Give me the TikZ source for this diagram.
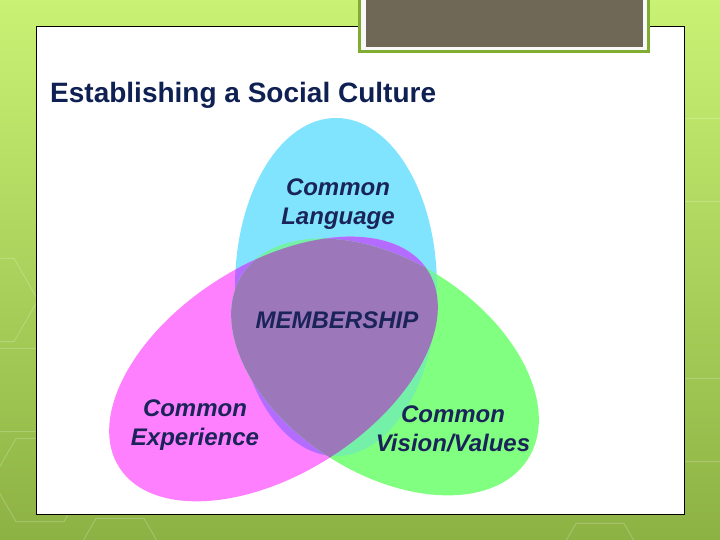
\documentclass[tikz,border=0pt]{standalone}
\usepackage{fontspec}
\setmainfont{Liberation Sans}
\usepackage[HTML]{xcolor}
\usepackage{tikz}
\usetikzlibrary{positioning}

\definecolor{bgtop}{HTML}{C9F274}
\definecolor{bgbot}{HTML}{8DB244}
\definecolor{lime}{HTML}{80AC32}
\definecolor{taupe}{HTML}{706857}
\definecolor{navy}{HTML}{0F2052}
\definecolor{inktext}{HTML}{1A2458}
\definecolor{cyanfill}{HTML}{80E4FF}
\definecolor{pinkfill}{HTML}{FF80FF}
\definecolor{greenfill}{HTML}{80FF80}
\definecolor{violetfill}{HTML}{B36CFF}
\definecolor{tealfill}{HTML}{74F0A8}
\definecolor{corefill}{HTML}{9C78BA}

\begin{document}
\begin{tikzpicture}[x=1pt, y=1pt,
  lbl/.style={font=\fontsize{24}{29}\selectfont\bfseries\itshape, text=inktext, align=center, inner sep=0pt},
  hexline/.style={draw=white, draw opacity=0.2, line width=1pt},
  cyanshape/.style={shift={(LG)}},
  pinkshape/.style={shift={(EX)}, rotate=32.5},
  greenshape/.style={shift={(VV)}, rotate=-33}]
\useasboundingbox (0,0) rectangle (720,540);

% background and slide
\shade[top color=bgtop, bottom color=bgbot] (0,0) rectangle (720,540);
\foreach \cx/\cy in {18/150, 40/60, -10/240, 705/380, 700/120, 120/-20, 600/-25}{
  \draw[hexline] (\cx,\cy) +(0:48) -- +(60:48) -- +(120:48) -- +(180:48) -- +(240:48) -- +(300:48) -- cycle;
}
\draw[fill=white, line width=0.8pt] (36,26) rectangle (684,514);
\draw[fill=white!95!gray, draw=lime, line width=3pt] (359.5,488.5) rectangle (648.5,545);
\fill[taupe] (366,493) rectangle (643,545);

\node[anchor=base west, font=\fontsize{28}{32}\selectfont\bfseries, text=navy, inner sep=0pt]
  (title) at (50,437) {Establishing a Social Culture};

% Venn centres
\coordinate (LG) at (336,253);
\coordinate (EX) at (273.5,171);
\coordinate (VV) at (385,173);

\fill[cyanfill, cyanshape] (0,0) ellipse [x radius=101pt, y radius=169pt];
\fill[pinkfill, pinkshape] (0,0) ellipse [x radius=183pt, y radius=105pt];
\fill[greenfill, greenshape] (0,0) ellipse [x radius=170pt, y radius=106pt];

% overlaps
\begin{scope}
  \clip[pinkshape] (0,0) ellipse [x radius=183pt, y radius=105pt];
  \fill[violetfill, cyanshape] (0,0) ellipse [x radius=101pt, y radius=169pt];
\end{scope}
\begin{scope}
  \clip[greenshape] (0,0) ellipse [x radius=170pt, y radius=106pt];
  \fill[tealfill, cyanshape] (0,0) ellipse [x radius=101pt, y radius=169pt];
\end{scope}
\begin{scope}
  \clip[pinkshape] (0,0) ellipse [x radius=183pt, y radius=105pt];
  \fill[corefill, greenshape] (0,0) ellipse [x radius=170pt, y radius=106pt];
\end{scope}

\node[lbl] (lang) at (338,336) {Common\\Language};
\node[lbl] (memb) at (337,220) {MEMBERSHIP};
\node[lbl] (exper) at (195,115) {Common\\Experience};
\node[lbl] (vision) at (453,111) {Common\\Vision/Values};
\end{tikzpicture}
\end{document}
